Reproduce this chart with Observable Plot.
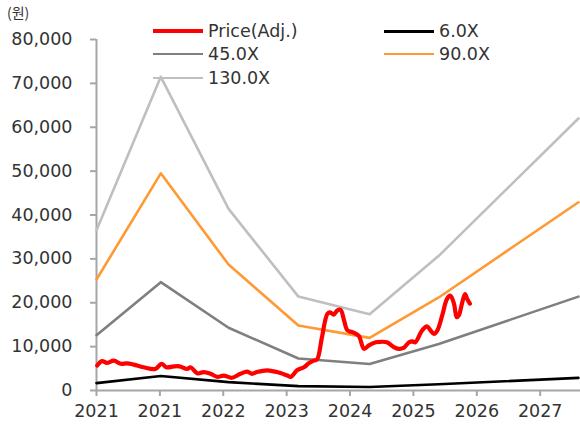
<!DOCTYPE html>
<html>
<head>
<meta charset="utf-8">
<script src="https://cdn.jsdelivr.net/npm/d3@7"></script>
<script src="https://cdn.jsdelivr.net/npm/@observablehq/plot@0.6"></script>
<style>
  html, body { margin: 0; padding: 0; background: #fff; }
  #wrap { position: relative; width: 580px; height: 429px; font-family: "DejaVu Sans", sans-serif; color: #333; }
  #unit { position: absolute; left: 7px; top: 2px; font-size: 14px; font-family: "Noto Sans CJK KR", sans-serif; }
  .leg { position: absolute; display: flex; align-items: center; font-size: 17.5px; line-height: 20px; }
  .leg span.sw { display: inline-block; width: 50px; margin-right: 5px; }
</style>
</head>
<body>
<div id="wrap">
  <div id="chart"></div>
  <div id="unit">(원)</div>
  <div id="legend"></div>
</div>
<script>
// ---- data ----
const tickValues = [2021, 2021 + 11/12, 2021 + 22/12, 2021 + 33/12, 2021 + 44/12, 2021 + 55/12, 2021 + 66/12, 2021 + 77/12];
const tickLabels = ["2021", "2021", "2022", "2023", "2024", "2025", "2026", "2027"];
const yTicks = [0, 10000, 20000, 30000, 40000, 50000, 60000, 70000, 80000];

const bandYears = [2021.0, 2021.93, 2022.91, 2023.92, 2024.95, 2025.95, 2027.97];
const band6 = [1690, 3300, 1910, 990, 810, 1420, 2870];
const band45 = [12600, 24700, 14300, 7300, 6050, 10600, 21400];
const band90 = [25300, 49500, 28700, 14800, 12000, 21200, 42900];
const band130 = [36500, 71500, 41400, 21400, 17400, 30700, 62000];

const priceDates = [2021.01, 2021.08, 2021.15, 2021.25, 2021.35, 2021.44, 2021.54, 2021.68, 2021.85, 2021.94,
  2022.01, 2022.12, 2022.20, 2022.31, 2022.36, 2022.46, 2022.55, 2022.65, 2022.75, 2022.84, 2022.96,
  2023.08, 2023.18, 2023.25, 2023.32, 2023.47, 2023.61, 2023.76, 2023.81, 2023.90,
  2024.00, 2024.07, 2024.14, 2024.19, 2024.26, 2024.34, 2024.38, 2024.43, 2024.48, 2024.53, 2024.58,
  2024.63, 2024.70, 2024.79, 2024.87, 2024.94,
  2025.04, 2025.11, 2025.20, 2025.30, 2025.37, 2025.44, 2025.52, 2025.57, 2025.61, 2025.71, 2025.78,
  2025.83, 2025.88, 2025.93,
  2026.00, 2026.07, 2026.12, 2026.17, 2026.21, 2026.24, 2026.29, 2026.33, 2026.36, 2026.40];
const priceValues = [5700, 6700, 6300, 6800, 6100, 6200, 5900, 5300, 4900, 6100,
  5300, 5500, 5500, 4900, 5300, 3900, 4200, 3800, 3100, 3400, 2900,
  3800, 4300, 3800, 4200, 4600, 4200, 3400, 3100, 4600,
  5300, 6200, 6800, 7100, 12100, 17500, 17800, 17300, 18200, 18400, 16000,
  13700, 13300, 12500, 9500, 10300,
  11000, 11100, 11000, 9900, 9500, 9700, 11000, 11200, 11000, 13700, 14600,
  13700, 12900, 13700,
  17100, 20900, 21600, 19800, 16700, 17100, 20100, 22000, 20900, 19800];

const seriesNames = ["Price(Adj.)", "6.0X", "45.0X", "90.0X", "130.0X"];
const seriesColors = ["#ff0000", "#000000", "#7f7f7f", "#ff9933", "#bfbfbf"];

// ---- build tables ----
const bands = [
  {name: "130.0X", values: band130, color: seriesColors[4]},
  {name: "90.0X", values: band90, color: seriesColors[3]},
  {name: "45.0X", values: band45, color: seriesColors[2]},
  {name: "6.0X", values: band6, color: seriesColors[1]}
];
const price = priceDates.map((d, i) => ({x: d, y: priceValues[i]}));

const axisColor = "#a6a6a6";
const chart = Plot.plot({
  width: 580,
  height: 429,
  marginLeft: 96,
  marginRight: 0,
  marginTop: 39,
  marginBottom: 39,
  style: {fontFamily: "'DejaVu Sans', sans-serif", fontSize: "17.5px", color: "#333", background: "#fff"},
  x: {domain: [2021, 2028], label: null},
  y: {domain: [0, 80000], label: null},
  marks: [
    Plot.ruleY([0], {stroke: axisColor, strokeWidth: 2}),
    Plot.ruleX([2021], {stroke: axisColor, strokeWidth: 2}),
    Plot.axisY({ticks: yTicks, tickFormat: d3.format(","), tickSize: 6, tickPadding: 18, stroke: axisColor, strokeWidth: 2, fill: "#333", label: null}),
    Plot.axisX({ticks: tickValues, tickFormat: d => tickLabels[tickValues.indexOf(d)], tickSize: 6, tickPadding: 8, stroke: axisColor, strokeWidth: 2, fill: "#333", label: null}),
    ...bands.map(b => Plot.line(bandYears.map((d, i) => ({x: d, y: b.values[i]})), {x: "x", y: "y", stroke: b.color, strokeWidth: 2.6})),
    Plot.line(price, {x: "x", y: "y", stroke: seriesColors[0], strokeWidth: 4.2, curve: "catmull-rom", strokeLinejoin: "round"})
  ]
});
document.getElementById("chart").appendChild(chart);

// ---- legend ----
const legendLayout = [
  {i: 0, left: 153, top: 21, w: 4},
  {i: 2, left: 153, top: 44, w: 2.6},
  {i: 4, left: 153, top: 68, w: 2.6},
  {i: 1, left: 384, top: 21, w: 3},
  {i: 3, left: 384, top: 44, w: 2.6}
];
const leg = document.getElementById("legend");
legendLayout.forEach(l => {
  const d = document.createElement("div");
  d.className = "leg";
  d.style.left = l.left + "px";
  d.style.top = l.top + "px";
  const sw = document.createElement("span");
  sw.className = "sw";
  sw.style.borderTop = l.w + "px solid " + seriesColors[l.i];
  d.appendChild(sw);
  d.appendChild(document.createTextNode(seriesNames[l.i]));
  leg.appendChild(d);
});
</script>
</body>
</html>
